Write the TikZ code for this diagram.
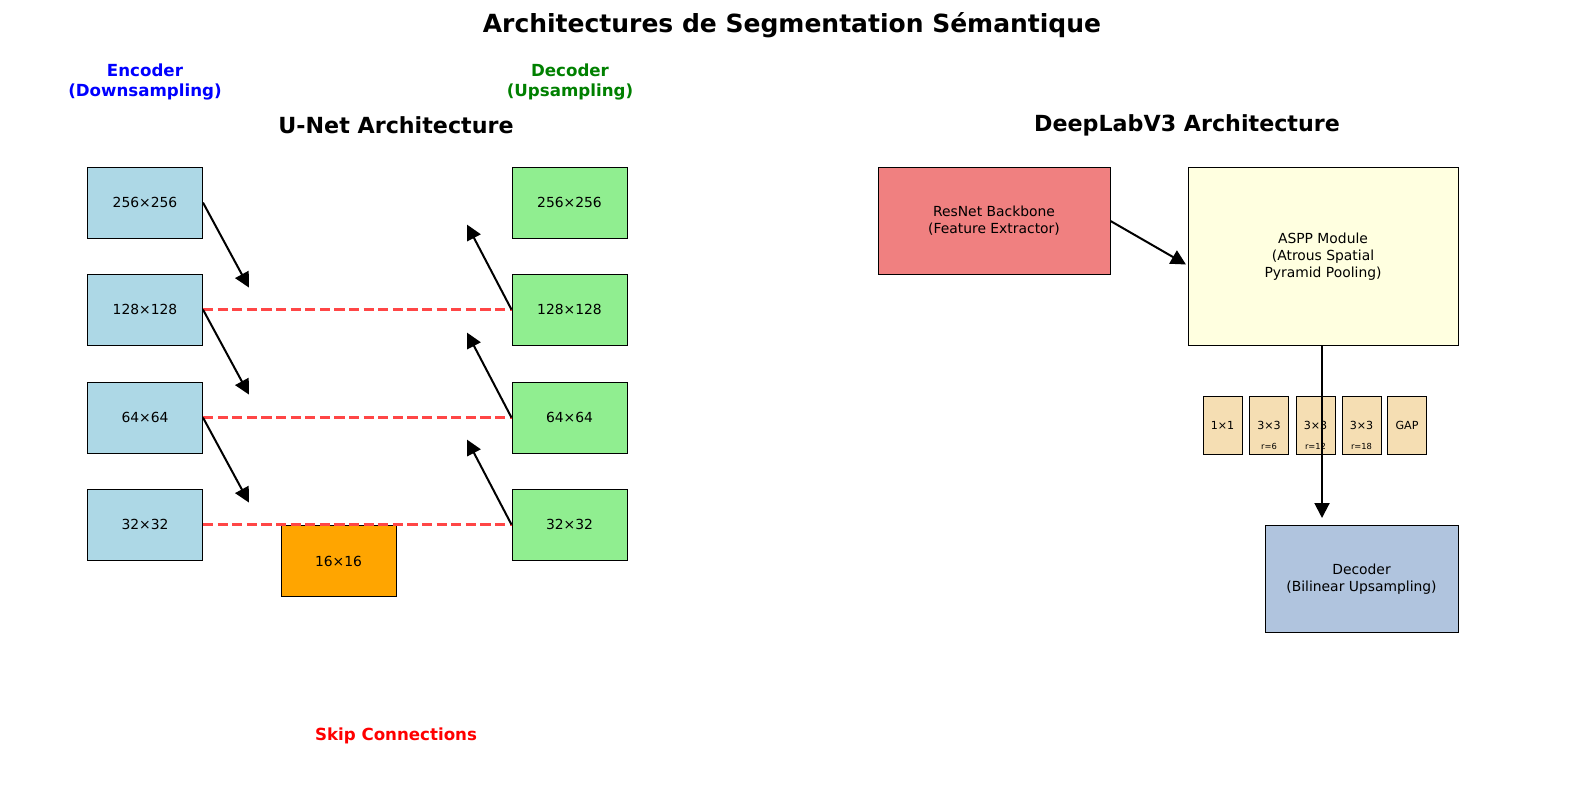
\documentclass[tikz,border=0pt]{standalone}
\usepackage{fontspec}
\setmainfont{DejaVu Sans}
\usetikzlibrary{arrows.meta}
\definecolor{lblue}{HTML}{ADD8E6}
\definecolor{lgreen}{HTML}{90EE90}
\definecolor{orangeb}{HTML}{FFA500}
\definecolor{lcoral}{HTML}{F08080}
\definecolor{lyellow}{HTML}{FFFFE0}
\definecolor{wheatc}{HTML}{F5DEB3}
\definecolor{lsteel}{HTML}{B0C4DE}
\definecolor{skipred}{RGB}{255,70,70}
\definecolor{encblue}{RGB}{0,0,255}
\definecolor{decgreen}{RGB}{0,128,0}
\tikzset{
  box/.style={draw=black, line width=0.5pt, inner sep=0pt, align=center, font=\fontsize{6.94}{8.4}\selectfont},
  fm/.style={box, minimum width=57.5pt, minimum height=35.5pt},
  br/.style={box, minimum width=19.5pt, minimum height=29pt, font=\fontsize{5.56}{6.7}\selectfont},
  arr/.style={line width=1pt, -{Triangle[length=7.5pt,width=7.5pt]}},
  skip/.style={line width=1.4pt, draw=skipred, dash pattern=on 5.1pt off 2.2pt},
  ttl/.style={font=\fontsize{11.1}{13}\bfseries\selectfont},
  lab/.style={align=center, font=\fontsize{8.33}{9.7}\bfseries\selectfont},
}
\begin{document}
\begin{tikzpicture}[x=0.5pt,y=-0.5pt]
\useasboundingbox (0,0) rectangle (1584,786);
% titles
\node[font=\fontsize{12.5}{15}\bfseries\selectfont] (title) at (792,25) {Architectures de Segmentation Sémantique};
\node[ttl] (unet) at (396,125) {U-Net Architecture};
\node[ttl] (dlab) at (1187,125) {DeepLabV3 Architecture};
\node[lab, text=encblue] (enclab) at (145,82) {Encoder\\(Downsampling)};
\node[lab, text=decgreen] (declab) at (570,82) {Decoder\\(Upsampling)};
\node[lab, text=red] (skiplab) at (396,736) {Skip Connections};
% encoder
\node[fm, fill=lblue] (e1) at (145,202.6) {256×256};
\node[fm, fill=lblue] (e2) at (145,309.6) {128×128};
\node[fm, fill=lblue] (e3) at (145,417.6) {64×64};
\node[fm, fill=lblue] (e4) at (145,524.6) {32×32};
% decoder
\node[fm, fill=lgreen] (d1) at (569.5,202.6) {256×256};
\node[fm, fill=lgreen] (d2) at (569.5,309.6) {128×128};
\node[fm, fill=lgreen] (d3) at (569.5,417.6) {64×64};
\node[fm, fill=lgreen] (d4) at (569.5,524.6) {32×32};
% bottleneck
\node[fm, fill=orangeb] (b) at (338.5,561) {16×16};
% skip connections
\draw[skip] (e2.east) -- (d2.west);
\draw[skip] (e3.east) -- (d3.west);
\draw[skip] (e4.east) -- (d4.west);
% arrow ends
\coordinate (ea1) at (249,287.6);
\coordinate (ea2) at (249,394.6);
\coordinate (ea3) at (249,502.6);
\coordinate (da2) at (467,224.6);
\coordinate (da3) at (467,332.6);
\coordinate (da4) at (467,439.6);
\draw[arr] (e1.east) -- (ea1);
\draw[arr] (e2.east) -- (ea2);
\draw[arr] (e3.east) -- (ea3);
\draw[arr] (d2.west) -- (da2);
\draw[arr] (d3.west) -- (da3);
\draw[arr] (d4.west) -- (da4);
% DeepLab
\node[box, fill=lcoral, minimum width=116pt, minimum height=53.5pt] (res) at (994,221) {ResNet Backbone\\(Feature Extractor)};
\node[box, fill=lyellow, minimum width=135pt, minimum height=89pt] (aspp) at (1323,256.5) {ASPP Module\\(Atrous Spatial\\Pyramid Pooling)};
\node[box, fill=lsteel, minimum width=96.5pt, minimum height=53.5pt] (dec) at (1361.5,579) {Decoder\\(Bilinear Upsampling)};
\coordinate (resend) at (1186,264.5);
\draw[arr] (res.east) -- (resend);
% branches
\node[br, fill=wheatc] (b1) at (1222.5,425) {1×1};
\node[br, fill=wheatc] (b2) at (1269,425) {3×3};
\node[br, fill=wheatc] (b3) at (1315.5,425) {3×3};
\node[br, fill=wheatc] (b4) at (1361.5,425) {3×3};
\node[br, fill=wheatc] (b5) at (1407,425) {GAP};
\node[font=\fontsize{4.17}{5}\selectfont] (r1) at (1269,446) {r=6};
\node[font=\fontsize{4.17}{5}\selectfont] (r2) at (1315.5,446) {r=12};
\node[font=\fontsize{4.17}{5}\selectfont] (r3) at (1361.5,446) {r=18};
\coordinate (asppend) at (1322,518);
\draw[arr] (aspp.south -| asppend) -- (asppend);
\end{tikzpicture}
\end{document}
